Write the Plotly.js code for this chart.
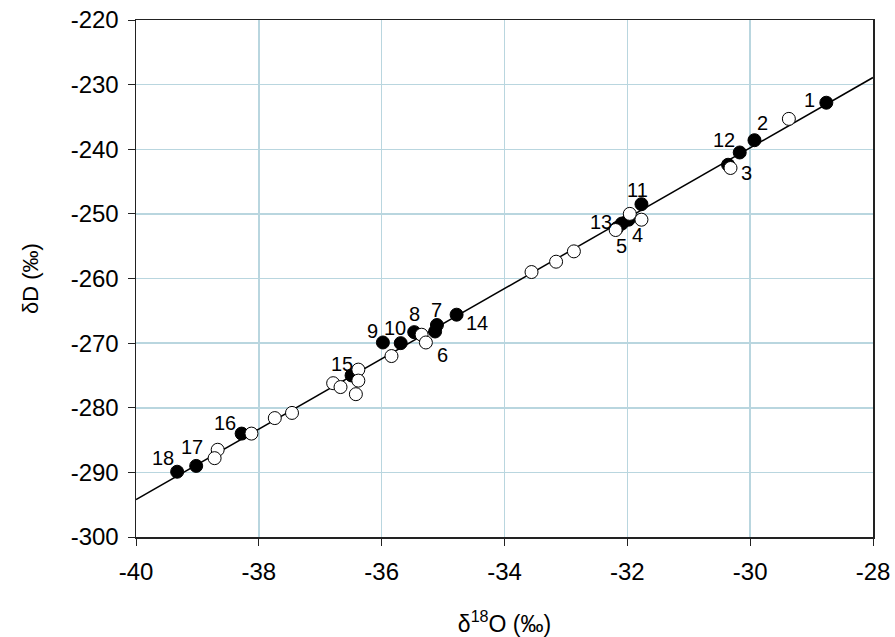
<!DOCTYPE html>
<html>
<head>
<meta charset="utf-8">
<script src="https://cdn.plot.ly/plotly-3.0.1.min.js"></script>
<style>html,body{margin:0;padding:0;background:#fff}#chart{width:895px;height:637px}</style>
</head>
<body>
<div id="chart"></div>
<script>
// Numbered samples (filled circles)
const filledLabels = ['1','2','3','4','5','6','7','8','9','10','11','12','13','14','15','16','17','18'];
const filledX = [-28.76,-29.93,-30.36,-31.98,-32.17,-35.13,-35.10,-35.47,-35.98,-35.69,-31.77,-30.17,-32.09,-34.78,-36.49,-38.28,-39.02,-39.33];
const filledY = [-232.8,-238.6,-242.4,-250.9,-252.2,-268.2,-267.2,-268.3,-269.9,-270.0,-248.5,-240.5,-251.5,-265.6,-275.0,-284.0,-289.0,-289.9];

// Other samples (open circles)
const openX = [-29.37,-30.32,-31.96,-31.77,-32.19,-32.87,-33.16,-33.56,-35.35,-35.28,-35.84,-36.38,-36.38,-36.79,-36.67,-36.42,-37.46,-37.74,-38.12,-38.67,-38.72];
const openY = [-235.3,-242.9,-250.0,-250.9,-252.5,-255.8,-257.4,-259.0,-268.7,-269.9,-272.0,-274.1,-275.8,-276.2,-276.8,-277.9,-280.8,-281.6,-284.0,-286.5,-287.8];

// Regression line end points
const lineX = [-40, -28];
const lineY = [-294.2, -228.9];

// Axis ticks
const xTicks = [-40,-38,-36,-34,-32,-30,-28];
const yTicks = [-300,-290,-280,-270,-260,-250,-240,-230,-220];

// label placement offsets (pixels, [dx, dy] with dy positive downward)
const labelOffsets = [[-17,-3],[8,-17],[18,8],[9,15],[5,18],[7,24],[0,-15],[0,-18],[-10,-11],[-6,-15],[-4,-14],[-16,-12],[-21,-2],[20,8],[-10,-11],[-17,-11],[-4,-19],[-14,-14]];

const FONT = "'Liberation Sans', Arial, sans-serif";

const traces = [
  {x: lineX, y: lineY, mode: 'lines', line: {color: '#000', width: 1.5}, hoverinfo: 'skip'},
  {x: filledX, y: filledY, mode: 'markers', marker: {size: 13, color: '#000', line: {color: '#000', width: 1}}},
  {x: openX, y: openY, mode: 'markers', marker: {size: 13, color: '#fff', line: {color: '#000', width: 1}}}
];

const annotations = filledLabels.map((t, i) => ({
  x: filledX[i], y: filledY[i], xref: 'x', yref: 'y', text: t, showarrow: false,
  xshift: labelOffsets[i][0], yshift: -labelOffsets[i][1],
  font: {family: FONT, size: 20, color: '#000'}
}));

const layout = {
  width: 895, height: 637,
  margin: {l: 136, r: 22, t: 20, b: 100},
  paper_bgcolor: '#fff', plot_bgcolor: '#fff',
  showlegend: false,
  font: {family: FONT, color: '#000'},
  xaxis: {
    range: [-40, -28], tickvals: xTicks, ticktext: xTicks.map(String),
    showgrid: true, gridcolor: '#b9d6df', gridwidth: 1.5,
    zeroline: false, showline: true, linecolor: '#222', linewidth: 1.5, mirror: true,
    ticks: 'outside', ticklen: 7, tickcolor: '#222', ticklabelstandoff: 6,
    tickfont: {family: FONT, size: 24, color: '#000'},
    title: {text: 'δ<sup>18</sup>O (‰)', font: {family: FONT, size: 23, color: '#000'}, standoff: 32}
  },
  yaxis: {
    range: [-300, -220], tickvals: yTicks, ticktext: yTicks.map(String),
    showgrid: true, gridcolor: '#b9d6df', gridwidth: 1.5,
    zeroline: false, showline: true, linecolor: '#222', linewidth: 1.5, mirror: true,
    ticks: 'outside', ticklen: 7, tickcolor: '#222', ticklabelstandoff: 4,
    tickfont: {family: FONT, size: 24, color: '#000'},
    title: {text: 'δD (‰)', font: {family: FONT, size: 22, color: '#000'}, standoff: 26}
  },
  annotations: annotations
};

Plotly.newPlot('chart', traces, layout, {staticPlot: true, displayModeBar: false});
</script>
</body>
</html>
